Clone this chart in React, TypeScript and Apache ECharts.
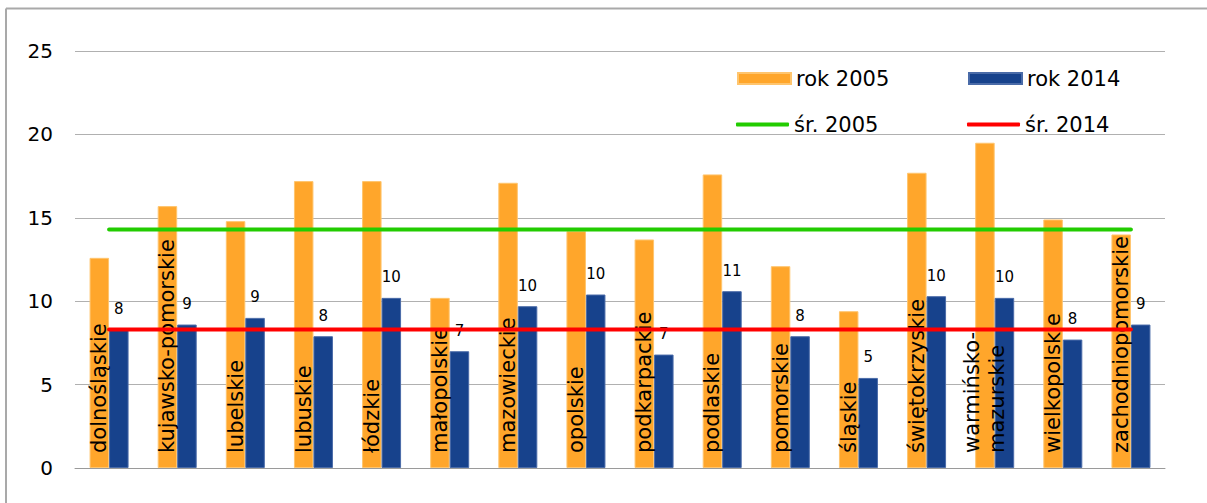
import React, { useEffect, useRef } from "react";
import * as echarts from "echarts";

// Voivodeships shown along the category axis
const categories = [
  "dolnośląskie",
  "kujawsko-pomorskie",
  "lubelskie",
  "lubuskie",
  "łódzkie",
  "małopolskie",
  "mazowieckie",
  "opolskie",
  "podkarpackie",
  "podlaskie",
  "pomorskie",
  "śląskie",
  "świętokrzyskie",
  "warmińsko-mazurskie",
  "wielkopolskie",
  "zachodniopomorskie",
];

const rok2005 = [12.6, 15.7, 14.8, 17.2, 17.2, 10.2, 17.1, 14.2, 13.7, 17.6, 12.1, 9.4, 17.7, 19.5, 14.9, 14.0];
const rok2014 = [8.3, 8.6, 9.0, 7.9, 10.2, 7.0, 9.7, 10.4, 6.8, 10.6, 7.9, 5.4, 10.3, 10.2, 7.7, 8.6];

// Averages across all voivodeships
const sr2005 = 14.3;
const sr2014 = 8.3;

const yTicks = { min: 0, max: 25, interval: 5 };

const FONT = "DejaVu Sans, Verdana, sans-serif";

export default function App() {
  const ref = useRef<HTMLDivElement>(null);

  useEffect(() => {
    if (!ref.current) return;
    const chart = echarts.init(ref.current, null, { renderer: "svg" });

    const legendText = { fontSize: 21, color: "#000", fontFamily: FONT };
    const legendBase = { padding: 0, itemWidth: 53, textStyle: legendText };

    chart.setOption({
      animation: false,
      textStyle: { fontFamily: FONT },
      graphic: [
        {
          type: "line",
          shape: { x1: 6, y1: 8.5, x2: 1207, y2: 8.5 },
          style: { stroke: "#a9a9a9", lineWidth: 2 },
          silent: true,
        },
        {
          type: "line",
          shape: { x1: 6, y1: 8.5, x2: 6, y2: 503 },
          style: { stroke: "#a9a9a9", lineWidth: 2 },
          silent: true,
        },
      ],
      grid: { left: 75, right: 42, top: 51, bottom: 35 },
      legend: [
        { ...legendBase, left: 737, top: 68, itemHeight: 11, data: [{ name: "rok 2005", icon: "rect" }] },
        { ...legendBase, left: 968, top: 68, itemHeight: 11, data: [{ name: "rok 2014", icon: "rect" }] },
        { ...legendBase, left: 736, top: 114, itemHeight: 4, data: [{ name: "śr. 2005", icon: "roundRect" }] },
        { ...legendBase, left: 967, top: 114, itemHeight: 4, data: [{ name: "śr. 2014", icon: "roundRect" }] },
      ],
      xAxis: {
        type: "category",
        data: categories,
        axisTick: { show: false },
        axisLabel: { show: false },
        axisLine: { lineStyle: { color: "#9a9a9a", width: 1 } },
      },
      yAxis: {
        type: "value",
        min: yTicks.min,
        max: yTicks.max,
        interval: yTicks.interval,
        axisLabel: { fontSize: 20, color: "#000", margin: 22, fontFamily: FONT },
        splitLine: { lineStyle: { color: "#b0b0b0", width: 1 } },
        axisLine: { show: false },
        axisTick: { show: false },
      },
      series: [
        {
          name: "rok 2005",
          type: "bar",
          data: rok2005,
          barWidth: 19.5,
          barGap: "0%",
          itemStyle: { color: "#FFA62B", borderColor: "#FFC56E", borderWidth: 1 },
          label: {
            show: true,
            position: "insideBottom",
            distance: 15,
            rotate: 90,
            align: "left",
            verticalAlign: "middle",
            fontSize: 21,
            lineHeight: 25,
            color: "#000",
            fontFamily: FONT,
            // long names wrap after the hyphen
            formatter: (p: any) =>
              p.name.length > 18 ? p.name.replace("-", "-\n") : p.name,
          },
          z: 2,
        },
        {
          name: "rok 2014",
          type: "bar",
          data: rok2014,
          barWidth: 19.5,
          barGap: "0%",
          itemStyle: { color: "#17428C", borderColor: "#4A6BA8", borderWidth: 1 },
          label: {
            show: true,
            position: "top",
            distance: 13,
            fontSize: 15,
            color: "#000",
            fontFamily: FONT,
            formatter: (p: any) => String(Math.round(p.value)),
          },
          z: 2,
        },
        {
          name: "śr. 2005",
          type: "line",
          data: categories.map(() => sr2005),
          symbol: "none",
          lineStyle: { color: "#22CC00", width: 4, cap: "round" },
          itemStyle: { color: "#22CC00" },
          z: 3,
        },
        {
          name: "śr. 2014",
          type: "line",
          data: categories.map(() => sr2014),
          symbol: "none",
          lineStyle: { color: "#FF0000", width: 4, cap: "round" },
          itemStyle: { color: "#FF0000" },
          z: 3,
        },
      ],
    });

    return () => chart.dispose();
  }, []);

  return (
    <div
      ref={ref}
      style={{ position: "fixed", left: 0, top: 0, width: 1207, height: 503, background: "#fff" }}
    />
  );
}
